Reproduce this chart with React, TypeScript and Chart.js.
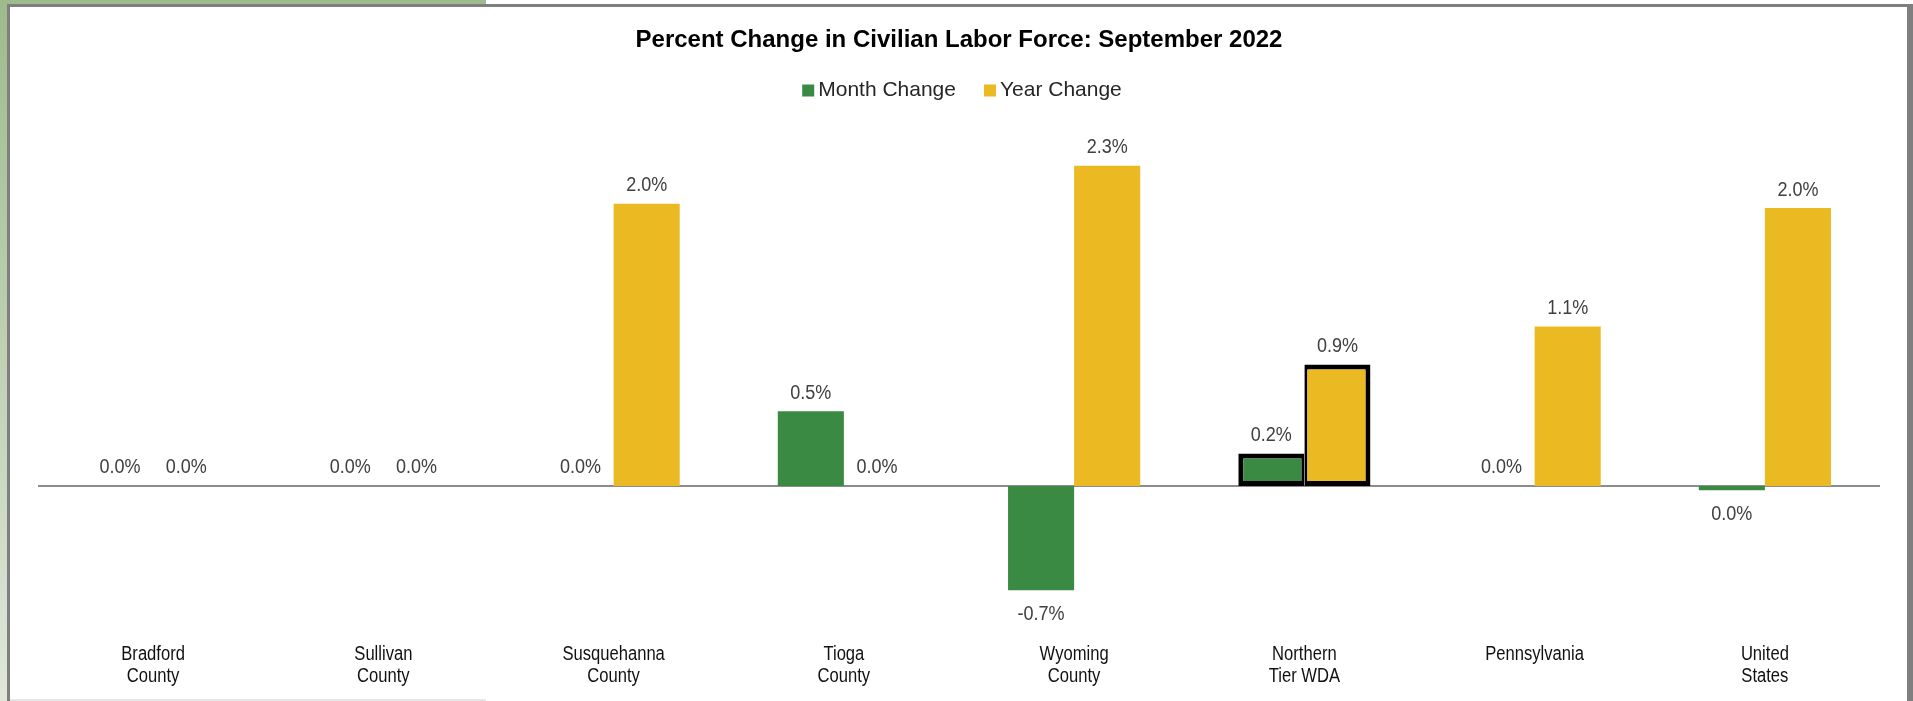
import React, { useEffect, useRef } from "react";
import { Chart, registerables } from "chart.js";

Chart.register(...registerables);

const chartTitle = "Percent Change in Civilian Labor Force: September 2022";
const categories: string[][] = [
  ["Bradford", "County"],
  ["Sullivan", "County"],
  ["Susquehanna", "County"],
  ["Tioga", "County"],
  ["Wyoming", "County"],
  ["Northern", "Tier WDA"],
  ["Pennsylvania"],
  ["United", "States"],
];
const seriesNames = ["Month Change", "Year Change"];
const monthChange = [0, 0, 0, 0.53, -0.74, 0.23, 0, -0.03];
const yearChange = [0, 0, 2.0, 0, 2.27, 0.86, 1.13, 1.97];
const highlightIndex = 5;

const GREEN = "#3a8a44";
const YELLOW = "#ebb922";
const FONT = '"Liberation Sans", Arial, sans-serif';

const fmt = (v: number) => {
  let r = Math.round(v * 10) / 10;
  if (r === 0) r = 0;
  return r.toFixed(1) + "%";
};

const valueLabels = {
  id: "valueLabels",
  afterDatasetsDraw(chart: any) {
    const ctx = chart.ctx;
    chart.data.datasets.forEach((ds: any, di: number) => {
      const meta = chart.getDatasetMeta(di);
      meta.data.forEach((bar: any, i: number) => {
        const v = ds.data[i];
        const y = v < 0 ? bar.y + 24 : bar.y - 18;
        ctx.save();
        ctx.font = "20px " + FONT;
        ctx.fillStyle = "#404040";
        ctx.textAlign = "center";
        ctx.textBaseline = "middle";
        ctx.translate(bar.x, y);
        ctx.scale(0.9, 1);
        ctx.fillText(fmt(v), 0, 0);
        ctx.restore();
      });
    });
  },
};

const categoryLabels = {
  id: "categoryLabels",
  afterDraw(chart: any) {
    const { ctx, chartArea } = chart;
    const xs = chart.scales.x;
    (chart.data.labels as string[][]).forEach((lines, i) => {
      const x = xs.getPixelForTick(i);
      lines.forEach((line, li) => {
        ctx.save();
        ctx.font = "20px " + FONT;
        ctx.fillStyle = "#111";
        ctx.textAlign = "center";
        ctx.textBaseline = "middle";
        ctx.translate(x, chartArea.bottom + 15 + li * 22);
        ctx.scale(0.83, 1);
        ctx.fillText(line, 0, 0);
        ctx.restore();
      });
    });
  },
};

const customLegend = {
  id: "customLegend",
  afterDraw(chart: any) {
    const { ctx, chartArea } = chart;
    const box = 12;
    const gap = 4;
    const itemGap = 28;
    ctx.save();
    ctx.font = "21px " + FONT;
    ctx.textBaseline = "middle";
    ctx.textAlign = "left";
    const items = chart.data.datasets.map((ds: any) => ({
      label: ds.label as string,
      color: ds.backgroundColor as string,
      w: ctx.measureText(ds.label).width,
    }));
    const total =
      items.reduce((s: number, it: any) => s + box + gap + it.w, 0) + itemGap * (items.length - 1);
    const cx = (chartArea.left + chartArea.right) / 2 + 3;
    let x = cx - total / 2;
    const y = 90.5;
    items.forEach((it: any) => {
      ctx.fillStyle = it.color;
      ctx.fillRect(x, y - box / 2, box, box);
      ctx.fillStyle = "#262626";
      ctx.fillText(it.label, x + box + gap, y);
      x += box + gap + it.w + itemGap;
    });
    ctx.restore();
  },
};

const zeroLine = {
  id: "zeroLine",
  beforeDatasetsDraw(chart: any) {
    const { ctx, chartArea } = chart;
    const y = chart.scales.y.getPixelForValue(0);
    ctx.save();
    ctx.strokeStyle = "#8c8c8c";
    ctx.lineWidth = 2;
    ctx.beginPath();
    ctx.moveTo(chartArea.left, y);
    ctx.lineTo(chartArea.right, y);
    ctx.stroke();
    ctx.restore();
  },
};

export default function App() {
  const ref = useRef<HTMLCanvasElement | null>(null);

  useEffect(() => {
    if (!ref.current) return;
    const chart = new Chart(ref.current, {
      type: "bar",
      data: {
        labels: categories,
        datasets: [
          {
            label: seriesNames[0],
            data: monthChange,
            backgroundColor: GREEN,
            borderColor: (c: any) => (c.dataIndex === highlightIndex ? "#000" : "rgba(0,0,0,0)"),
            borderWidth: (c: any) =>
              c.dataIndex === highlightIndex ? { top: 5, left: 5, bottom: 5, right: 3 } : 0,
            borderSkipped: false,
          },
          {
            label: seriesNames[1],
            data: yearChange,
            backgroundColor: YELLOW,
            borderColor: (c: any) => (c.dataIndex === highlightIndex ? "#000" : "rgba(0,0,0,0)"),
            borderWidth: (c: any) =>
              c.dataIndex === highlightIndex ? { top: 5, left: 3, bottom: 5, right: 5 } : 0,
            borderSkipped: false,
          },
        ] as any,
      },
      options: {
        responsive: false,
        animation: false,
        layout: { padding: { left: 38, right: 33, top: 0, bottom: 62 } },
        datasets: { bar: { categoryPercentage: 0.574, barPercentage: 1 } } as any,
        plugins: {
          title: {
            display: true,
            text: chartTitle,
            color: "#000",
            font: { family: FONT, size: 24, weight: "bold" },
            padding: { top: 26, bottom: 57 },
          },
          legend: { display: false },
          tooltip: { enabled: false },
        },
        scales: {
          x: {
            display: false,
          },
          y: {
            display: false,
            min: -1.085,
            max: 2.652,
          },
        },
      },
      plugins: [zeroLine, valueLabels, categoryLabels, customLegend],
    });
    return () => chart.destroy();
  }, []);

  return (
    <div style={{ position: "fixed", left: 0, top: 0, width: 1913, height: 701, background: "#fff", overflow: "hidden" }}>
      <div style={{ position: "absolute", left: 0, top: 0, width: 486, height: 4, background: "#9dbb8c" }} />
      <div
        style={{
          position: "absolute",
          left: 0,
          top: 0,
          width: 7,
          height: 701,
          background: "linear-gradient(#9dbb8c, #dfe7da)",
        }}
      />
      <div style={{ position: "absolute", left: 7, top: 4, width: 1906, height: 3, background: "#7f7f7f" }} />
      <div style={{ position: "absolute", left: 7, top: 4, width: 3, height: 697, background: "#7f7f7f" }} />
      <div style={{ position: "absolute", left: 1907, top: 4, width: 6, height: 697, background: "#7f7f7f" }} />
      <div style={{ position: "absolute", left: 10, top: 699, width: 476, height: 2, background: "#e6e6e6" }} />
      <canvas ref={ref} width={1913} height={701} style={{ position: "absolute", left: 0, top: 0 }} />
    </div>
  );
}
